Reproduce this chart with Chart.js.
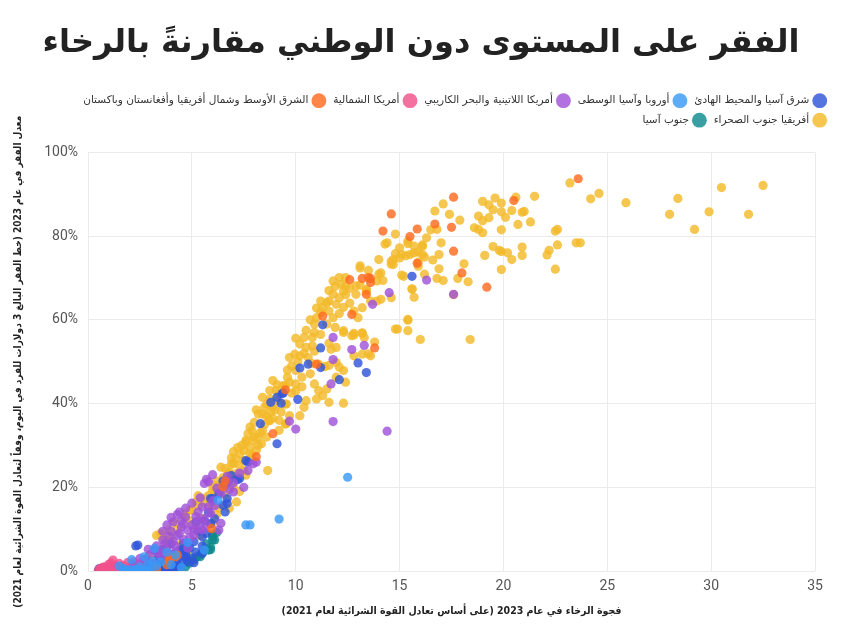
<!DOCTYPE html>
<html lang="ar">
<head>
<meta charset="utf-8">
<script src="https://cdn.jsdelivr.net/npm/chart.js@4.4.1/dist/chart.umd.min.js"></script>
<style>
  html, body { margin: 0; padding: 0; background: #fff; }
  #wrap { width: 842px; height: 628px; position: relative; }
</style>
</head>
<body>
<div id="wrap"><canvas id="chart"></canvas></div>
<script>
// Subnational poverty rate vs prosperity gap, one point array per region ([gap, poverty %]).
const regionNames = [
  "شرق آسيا والمحيط الهادئ",
  "أوروبا وآسيا الوسطى",
  "أمريكا اللاتينية والبحر الكاريبي",
  "أمريكا الشمالية",
  "الشرق الأوسط وشمال أفريقيا وأفغانستان وباكستان",
  "أفريقيا جنوب الصحراء",
  "جنوب آسيا",
];
const regionColors = ["#2f55d9", "#3a98f7", "#a052d8", "#f2508a", "#ff6a21", "#f3b92a", "#0e8a8e"];
// which region sits on top where points overlap (lower = drawn later)
const drawOrder = [5, 1, 3, 4, 2, 7, 6];

const eapPoints = [
  [15.6,70.4],[11.3,58.8],[11.2,53.3],[13.0,49.7],[13.4,47.4],[10.2,48.5],[10.6,49.4],[11.2,48.6],[12.1,45.7],
  [9.4,42.5],[9.1,41.5],[8.8,40.3],[9.3,40.1],[10.1,41.0],[9.35,42.4],[8.3,35.2],[9.1,30.4],[7.6,26.4],[7.7,26.0],
  [6.9,22.8],[6.8,21.7],[6.5,21.5],[7.2,21.8],[7.3,22.1],[6.6,20.5],[6.7,16.1],[6.6,14.1],[5.9,17.3],[6.0,17.3],
  [6.7,17.3],[6.5,15.7],[5.9,11.3],[5.2,11.7],[5.5,8.2],[4.7,4.2],[4.6,6.6],[3.2,5.0],[2.4,6.2],[2.3,6.0],
  [0.5,0.1],[0.6,0.3],[0.7,0.0],[0.8,0.2],[0.9,0.4],[1.0,0.1],[1.1,0.3],[1.2,0.0],[1.3,0.2],[1.4,0.5],
  [1.5,0.1],[1.6,0.3],[1.7,0.0],[1.8,0.6],[1.9,0.2],[2.0,0.0],[2.1,0.4],[2.2,0.1],[2.3,0.8],[2.4,0.2],
  [2.5,0.0],[2.6,0.5],[2.7,1.0],[2.8,0.2],[2.9,0.6],[3.0,1.2],[3.1,0.3],[3.2,1.8],[3.3,0.5],[3.4,1.0],
  [3.5,2.4],[3.6,0.4],[3.7,1.5],[3.8,3.0],[3.9,0.8],[4.0,2.0],[4.1,4.0],[4.2,1.2],[4.3,2.8],[4.4,5.0],
  [4.5,1.8],[4.6,3.5],[4.8,2.2],[4.9,5.5],[5.0,3.0],[5.1,7.0],[5.2,4.5],[5.3,9.5],[5.5,6.0],[5.6,12.0],
  [5.7,9.0],[5.8,14.0],[6.1,12.5],[6.3,18.5],[4.3,0.5],[3.0,0.0],[1.6,0.9],[2.2,1.3],[2.8,2.8],[3.4,3.5],
  [4.0,6.5],[3.6,5.2],[4.5,5.0],[4.7,3.4],[4.8,5.8],[5.1,2.0],[5.5,4.2],
  [0.55,0.6],[0.65,0.0],[0.75,0.5],[0.85,0.0],[0.95,0.7],[1.05,0.0],[1.15,0.6],[1.25,0.4],[1.35,0.0],
  [1.45,0.8],[1.55,0.0],[1.65,0.5],[1.75,0.3],[1.85,0.0],[1.95,0.7],[2.05,0.2],[2.15,0.0],[2.25,0.5],
  [2.35,0.0],[2.45,0.6],[2.55,0.3],[2.65,0.0],[2.75,0.5],[2.85,0.0],[2.95,0.3],[3.05,0.0],[3.15,0.7],
  [3.25,0.0],[3.35,0.3],[3.45,0.0],[3.55,0.8],[3.65,0.0],[3.75,0.4],[3.85,0.0],[3.95,0.5],[4.05,0.1],[4.15,0.0]
];
const ecaPoints = [
  [7.6,11.0],[7.8,11.0],[9.2,12.4],[12.5,22.4],[6.25,16.9],[3.2,5.4],[3.1,2.3],[2.7,3.4],[2.1,2.7],[3.5,2.2],
  [1.8,0.2],[1.9,0.0],[2.0,0.3],[2.1,0.1],[2.2,0.0],[2.3,0.4],[2.4,0.1],[2.5,0.2],[2.6,0.0],[2.7,0.3],
  [2.8,0.1],[2.9,0.0],[3.0,0.4],[1.7,0.6],[2.5,1.0],[3.3,1.2],[4.0,1.5],[4.2,3.8],[4.8,6.8],[5.6,5.0],
  [3.8,4.5],[1.5,1.2],[2.9,1.6],[4.5,0.8]
];
const lacPoints = [
  [16.3,69.5],[17.6,66.1],[14.5,66.5],[13.7,63.7],[13.3,53.9],[12.7,52.9],[11.8,55.8],[11.8,50.5],[11.7,44.7],
  [9.7,35.8],[10.0,33.9],[11.8,35.7],[14.4,33.4],[7.95,25.6],[7.7,24.0],[7.0,21.1],[6.7,22.6],[6.0,23.0],
  [5.7,21.9],[5.6,20.9],[6.7,21.6],[7.0,18.9],[6.4,18.5],[5.5,15.3],[4.4,14.1],[4.1,11.7],[6.4,11.4],[3.9,8.2],
  [3.6,7.4],[4.7,12.9],[5.3,14.1],[5.8,15.3],[5.8,21.3],[2.7,2.6],[2.5,3.0],[4.1,7.1],[3.0,4.0],[3.3,6.0],
  [3.5,3.5],[3.8,5.5],[4.0,9.5],[4.3,8.5],[4.5,10.5],[4.6,7.5],[4.8,9.8],[5.0,11.0],[5.1,8.5],[5.2,13.0],
  [5.4,10.2],[5.6,12.5],[5.9,13.8],[6.1,15.6],[6.2,19.8],[6.8,19.5],[4.2,4.5],[4.8,5.5],[3.1,1.8],[2.2,1.5],
  [2.9,5.2],[5.0,16.2],[4.5,12.0],[6.3,9.8],[7.5,20.0],[7.3,23.4],[8.1,26.0],
  [3.4,4.5],[3.7,6.5],[3.9,4.0],[4.2,6.0],[4.4,9.0],[4.6,11.2],[4.9,8.0],[5.1,10.0],[5.3,12.0],[5.5,9.8],
  [5.7,11.0],[4.0,12.8],[3.8,11.0],[3.6,9.5],[4.3,13.5],[4.7,15.0],[5.4,17.5],[6.0,16.8]
];
const naPoints = [
  [0.5,0.2],[0.6,0.6],[0.7,0.1],[0.8,1.0],[0.9,0.3],[1.0,1.6],[1.1,0.5],[1.2,2.6],[1.3,1.1],[1.4,0.2],
  [1.5,1.8],[1.6,0.7],[1.7,1.3],[1.8,0.4],[1.9,2.0],[2.0,1.0],[2.2,2.2],[2.4,1.2],[2.6,2.0],[1.1,1.9],
  [0.7,0.9],[1.3,0.0]
];
const menaPoints = [
  [23.6,93.7],[20.5,88.5],[19.2,67.8],[18.0,71.2],[17.6,76.4],[15.85,73.5],[15.5,79.9],[14.2,81.2],[14.6,85.3],
  [15.85,81.7],[16.7,82.9],[17.5,82.1],[17.6,89.3],[12.7,61.3],[13.4,66.1],[13.2,69.9],[13.6,69.9],[13.6,68.9],
  [12.6,69.6],[13.8,53.3],[13.5,70.1],[11.3,60.9],[11.0,49.4],[9.5,43.3],[8.9,32.8],[8.1,27.3],[6.6,21.5],
  [6.5,20.1],[5.95,10.1],[3.95,3.4],[4.3,3.8],[4.2,3.4],[3.9,2.6],[3.8,1.5],[3.3,0.5]
];
const ssaPoints = [
  [23.2,92.7],[24.6,90.2],[24.2,88.9],[25.9,88.0],[28.0,85.2],[28.4,89.0],[29.2,81.6],[29.9,85.8],[30.5,91.6],
  [31.8,85.2],[32.5,92.1],[23.7,78.4],[21.5,89.5],[20.6,89.3],[19.6,89.1],[19.0,88.3],[19.3,87.5],[19.9,87.9],
  [19.5,86.3],[19.9,85.8],[20.4,86.1],[20.9,85.7],[21.0,85.9],[20.1,84.5],[19.3,84.4],[18.8,84.8],[19.0,83.7],
  [21.3,83.4],[20.7,82.8],[19.9,81.5],[18.6,82.0],[19.0,80.8],[18.8,81.6],[22.6,81.6],[22.5,81.2],[22.6,77.9],
  [23.5,78.4],[22.2,76.6],[22.1,75.5],[22.5,72.1],[20.9,77.4],[20.9,75.4],[20.4,74.4],[20.2,76.0],[19.9,76.3],
  [19.8,76.6],[19.5,77.5],[19.1,75.4],[19.9,72.0],[18.4,55.3],
  [16.0,55.3],[15.4,60.1],[15.4,57.4],[14.9,57.8],[18.1,73.4],[17.8,69.9],[18.3,69.1],[17.6,66.0],[16.9,72.2],
  [16.9,75.6],[17.0,78.4],[16.6,74.3],[16.8,69.9],[17.1,69.4],[15.2,70.4],[15.6,67.4],[15.7,65.4],[15.9,72.8],
  [15.9,73.8],[15.5,75.6],[15.9,76.2],[16.2,75.0],[16.1,77.6],[16.3,79.6],[15.7,77.6],[15.4,78.8],[14.8,80.5],
  [14.4,78.4],[14.3,78.1],[16.5,81.5],[16.8,81.6],[16.7,86.0],[17.1,87.7],[17.4,85.2],[17.9,83.8],[15.0,77.2],
  [14.8,75.8],[15.0,74.8],[14.0,74.4],[14.6,74.0],[14.7,73.2],[14.1,71.2],[14.2,69.4],[13.5,71.8],[13.1,72.4],
  [14.6,65.3],[14.1,64.9],[13.9,64.5],[13.2,62.9],[13.0,60.5],[13.4,66.9],[12.4,66.0],[12.8,56.4],[13.2,56.8],
  [13.8,54.7],[13.5,51.9],[12.3,57.0],
  [15.4,78.2],[16.1,77.9],[16.1,75.6],[15.7,76.0],[15.3,75.3],[15.1,75.6],[14.7,74.4],[14.6,73.3],[15.1,70.7],
  [16.2,70.9],[15.6,67.3],[15.4,59.9],[14.8,57.8],[13.1,72.9],[14.0,70.9],[13.9,69.3],[13.1,68.3],[13.4,67.3],
  [12.9,66.1],[13.6,64.5],[12.8,62.1],[11.8,69.3],[12.1,70.1],[12.4,70.1],[12.4,68.1],[12.9,68.1],[12.3,66.9],
  [11.8,66.1],[12.1,65.3],[11.2,64.5],[11.5,64.1],[11.6,64.5],[11.95,63.7],[11.0,62.8],[11.2,61.8],[11.6,62.1],
  [10.9,59.0],[11.5,59.0],[11.9,58.2],[12.3,57.4],[10.4,55.8],[10.8,55.8],[10.8,53.8],[10.5,53.4],[10.2,54.2],
  [10.0,55.6],[11.6,54.4],[11.7,53.0],[11.95,53.4],[12.7,56.2],[12.8,56.8],[13.2,56.9],[13.3,55.8],[12.8,51.4],
  [13.2,51.8],[13.6,51.4],[10.75,49.6],[11.1,49.4],[11.4,48.8],[11.6,49.1],[11.95,49.8],[12.1,48.7],[12.3,47.9],
  [12.4,45.1],[11.95,46.3],[9.7,51.0],[9.95,51.8],[10.2,51.4],[9.8,49.0],[10.0,47.9],[9.6,46.3],[9.7,45.1],
  [10.0,44.7],[10.3,46.3],[10.7,47.1],[10.9,44.7],[11.1,43.1],[11.5,43.5],[11.3,41.9],[9.4,44.3],[9.2,42.3],
  [9.15,40.7],[8.75,43.1],[8.4,41.5],[8.6,39.9],[8.9,39.1],[9.5,39.9],[10.5,40.7],[11.0,41.1],[11.6,40.3],
  [12.3,40.1],[10.4,39.1],[10.2,37.1],[9.7,37.1],[9.5,35.1],[9.2,33.6],[8.75,35.9],[8.4,33.6],[8.2,32.0],
  [7.95,31.2],[7.6,31.2],[7.5,28.8],[7.8,28.0],[7.3,28.0],
  [3.5,9.0],[4.7,13.7],[5.0,14.5],[6.0,19.3],[6.0,11.4],[4.9,14.5],[5.3,15.7],[5.6,16.5],[6.1,18.9],[7.15,16.5],
  [5.95,15.7],[4.65,12.9],[3.5,8.6],[6.8,23.7],[7.0,25.6],[7.6,30.8],[7.5,24.0],[7.15,23.3],[6.9,25.6],
  [6.75,23.3],[6.97,22.5],[7.6,22.9],[7.9,27.6],[7.5,26.4],[7.3,25.2],[8.2,30.0],[8.1,28.8],[8.35,30.4],
  [8.6,32.0],[8.0,32.0],[7.8,34.4],[7.8,29.6],[8.65,24.0],[8.2,37.5],[8.5,39.1],[8.75,41.1],[9.07,43.1],
  [9.5,44.3],[9.55,39.9],[9.2,36.0],[9.55,35.2],[8.7,36.0],[8.4,37.5],[6.3,20.5],[6.5,22.3],[5.8,18.0],
  [6.6,18.3],[7.0,20.0],[5.5,12.5],[5.2,10.5],[4.3,10.0],[4.0,8.0],[3.8,6.0],[4.5,6.5],[6.2,13.5],[6.8,15.0],
  [7.3,19.0],[6.4,24.8],[5.3,18.0],[3.9,9.8],[5.4,8.5],[4.8,4.5],[3.2,2.5],[2.6,1.5],[4.1,3.2],
  [6.6,24.5],[6.9,27.0],[7.1,26.8],[7.2,29.5],[7.4,30.0],[7.0,28.5],[7.7,32.8],[7.9,33.5],[8.0,35.5],
  [8.3,33.0],[8.5,35.0],[8.6,37.0],[8.1,38.5],[8.8,38.0],[9.0,38.5],[8.9,36.5],[9.3,38.0],[9.1,44.5],
  [8.9,45.5],[9.8,42.5],[10.0,43.0],[10.3,44.0],[9.6,48.0],[10.1,50.0],[10.4,52.0],[10.6,51.0],[10.9,52.5],
  [10.5,57.5],[10.9,57.0],[11.2,56.5],[10.7,60.0],[11.0,60.5],[11.3,63.0],[11.8,60.5],[12.1,61.5],[12.3,63.0],
  [12.6,64.0],[12.2,68.5],[12.6,67.5],[11.6,67.0],[11.9,68.0],[6.2,21.5],[6.5,19.5],[6.0,20.5],[5.7,17.5],
  [5.2,16.5],[4.9,12.0],[4.2,11.5],[3.7,7.5],[3.3,8.5],[2.9,3.5],[5.9,16.2],[6.3,15.0]
];
const sasPoints = [
  [6.0,8.6],[6.1,7.4],[5.9,5.7],[5.6,5.0],[5.2,3.3],[4.9,1.9],[4.4,1.0],[6.0,8.2],[5.8,5.0],[5.4,3.4],
  [5.1,2.6],[4.7,1.0],[6.0,7.4],[5.9,5.1],[5.4,3.8],[4.8,2.6],[4.5,0.5],[4.2,0.2],[5.7,6.5],[6.2,9.2],
  [5.5,4.3],[4.0,0.3],[3.8,0.0]
];

const pointSets = [eapPoints, ecaPoints, lacPoints, naPoints, menaPoints, ssaPoints, sasPoints];

const xTitle = "فجوة الرخاء في عام 2023 (على أساس تعادل القوة الشرائية لعام 2021)";
const yTitle = "معدل الفقر في عام 2023 (خط الفقر البالغ 3 دولارات للفرد في اليوم، وفقاً لتعادل القوة الشرائية لعام 2021)";
const chartTitle = "الفقر على المستوى دون الوطني مقارنةً بالرخاء";

function withAlpha(hex, a) {
  const n = parseInt(hex.slice(1), 16);
  return `rgba(${(n >> 16) & 255}, ${(n >> 8) & 255}, ${n & 255}, ${a})`;
}

const datasets = regionNames.map((name, i) => ({
  label: name,
  data: pointSets[i].map(([x, y]) => ({ x, y })),
  backgroundColor: withAlpha(regionColors[i], 0.82),
  borderWidth: 0,
  pointRadius: 4.6,
  order: drawOrder[i],
}));

// leave a gap between the legend and the plot
const legendGap = {
  id: "legendGap",
  beforeInit(chart) {
    const fit = chart.legend.fit;
    chart.legend.fit = function () {
      fit.call(this);
      this.height += 17;
    };
  },
};

const arabicFont = "'DejaVu Sans', sans-serif";
const condensedFont = "'DejaVu Sans Condensed', 'DejaVu Sans', sans-serif";
const tickFont = "Roboto, 'DejaVu Sans', sans-serif";

new Chart(document.getElementById("chart"), {
  type: "scatter",
  data: { datasets },
  plugins: [legendGap],
  options: {
    responsive: true,
    maintainAspectRatio: false,
    animation: false,
    layout: { padding: { left: 8, right: 8, top: 0, bottom: 0 } },
    plugins: {
      title: {
        display: true,
        text: chartTitle,
        color: "#222",
        font: { family: arabicFont, size: 32, weight: "bold" },
        padding: { top: 24, bottom: 24 },
      },
      legend: {
        position: "top",
        align: "start",
        rtl: true,
        textDirection: "rtl",
        labels: {
          usePointStyle: true,
          pointStyle: "circle",
          boxWidth: 11,
          boxHeight: 11,
          padding: 9,
          color: "#333",
          font: { family: arabicFont, size: 10.5 },
          sort: (a, b) => a.datasetIndex - b.datasetIndex,
        },
      },
      tooltip: { enabled: false },
    },
    scales: {
      x: {
        type: "linear",
        min: 0,
        max: 35,
        ticks: { stepSize: 5, color: "#555", font: { family: tickFont, size: 14 }, padding: 7 },
        grid: { color: "#ebebeb", drawTicks: false },
        border: { display: false },
        title: {
          display: true,
          text: xTitle,
          color: "#222",
          font: { family: condensedFont, size: 10.5, weight: "bold" },
          padding: { top: 4, bottom: 10 },
        },
        afterFit: (scale) => { scale.height = 57; },
      },
      y: {
        min: 0,
        max: 100,
        ticks: {
          stepSize: 20,
          color: "#555",
          font: { family: tickFont, size: 14 },
          padding: 10,
          callback: (v) => v + "%",
        },
        grid: { color: "#ebebeb", drawTicks: false },
        border: { display: false },
        title: {
          display: true,
          text: yTitle,
          color: "#222",
          font: { family: condensedFont, size: 10, weight: "bold" },
          padding: { bottom: 4 },
        },
        afterFit: (scale) => { scale.width = 80; },
      },
      // empty right-hand box that keeps the plot off the right edge
      yRight: {
        position: "right",
        display: true,
        ticks: { display: false },
        grid: { display: false },
        border: { display: false },
        afterFit: (scale) => { scale.width = 19; },
      },
    },
  },
});
</script>
</body>
</html>
